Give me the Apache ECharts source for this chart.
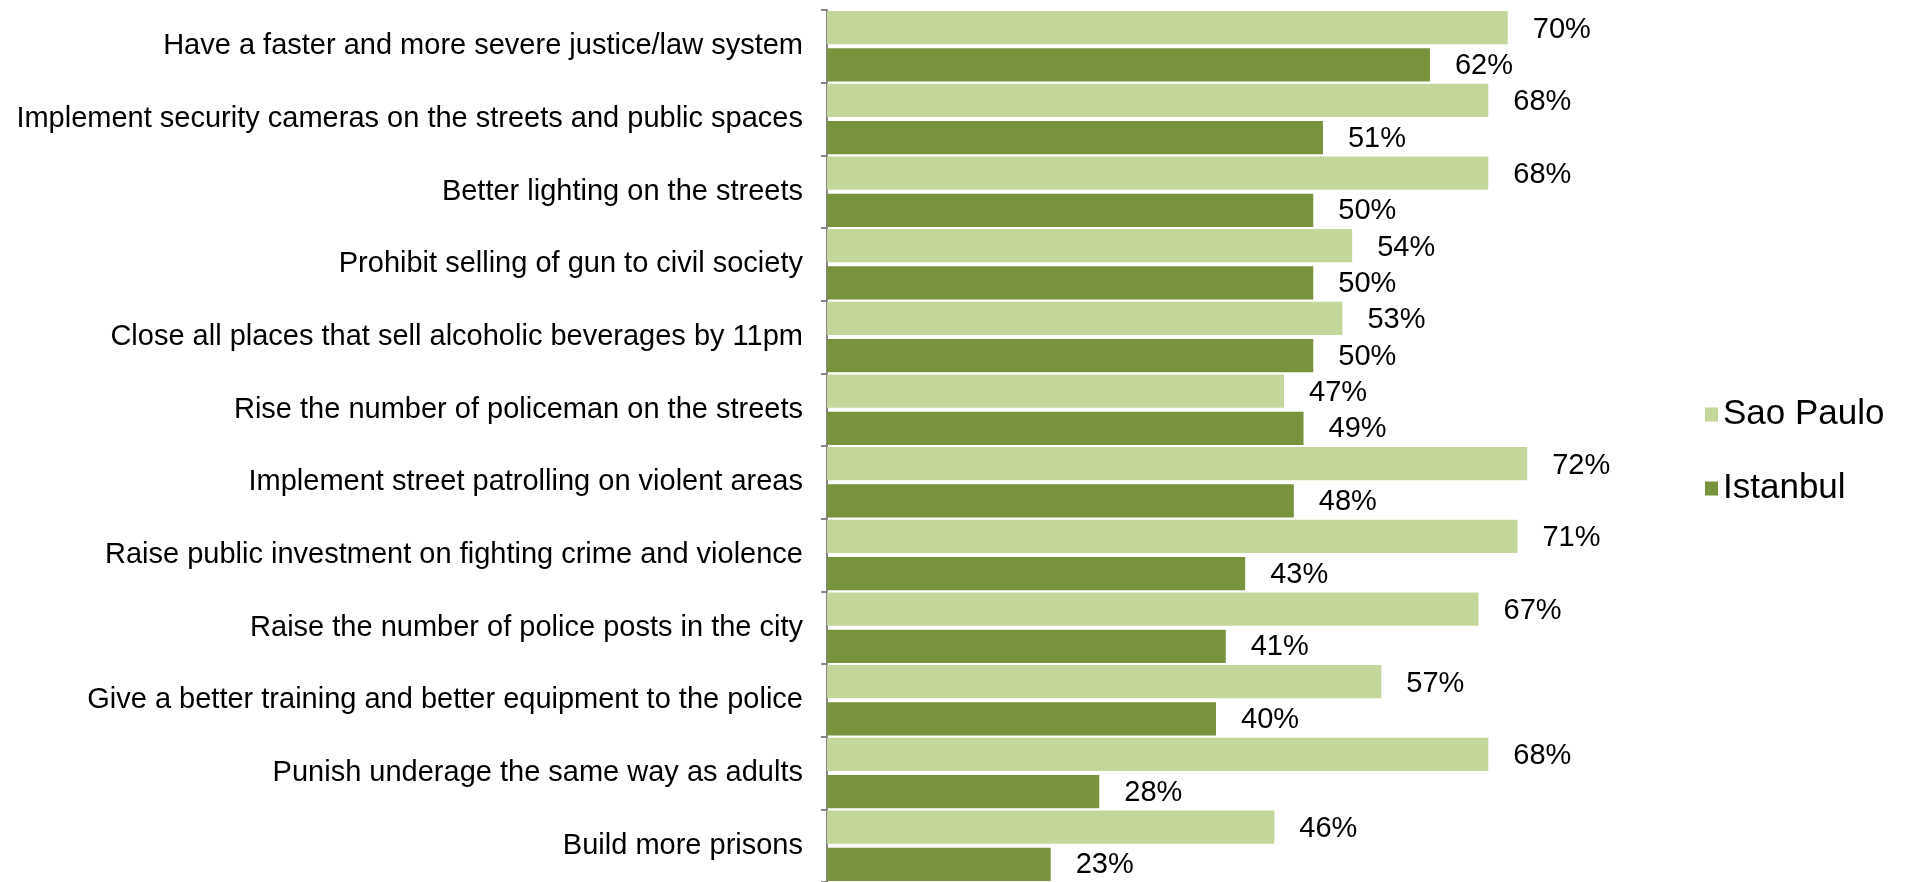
<!DOCTYPE html>
<html>
<head>
<meta charset="utf-8">
<script src="https://cdn.jsdelivr.net/npm/echarts@6/dist/echarts.min.js"></script>
<style>
html,body{margin:0;padding:0;background:#fff;}
#chart{width:1906px;height:882px;}
</style>
</head>
<body>
<div id="chart"></div>
<script>
const categories = [
  "Have a faster and more severe justice/law system",
  "Implement security cameras on the streets and public spaces",
  "Better lighting on the streets",
  "Prohibit selling of gun to civil society",
  "Close all places that sell alcoholic beverages by 11pm",
  "Rise the number of policeman on the streets",
  "Implement street patrolling on violent areas",
  "Raise public investment on fighting crime and violence",
  "Raise the number of police posts in the city",
  "Give a better training and better equipment to the police",
  "Punish underage the same way as adults",
  "Build more prisons"
];
const saoPaulo = [70, 68, 68, 54, 53, 47, 72, 71, 67, 57, 68, 46];
const istanbul = [62, 51, 50, 50, 50, 49, 48, 43, 41, 40, 28, 23];

const chart = echarts.init(document.getElementById('chart'));
const FONT = '"Liberation Sans", Arial, sans-serif';
function labelCfg(dy) {
  return {
    show: true,
    position: 'right',
    distance: 25,
    offset: [0, dy],
    color: '#000',
    fontFamily: FONT,
    fontSize: 29,
    formatter: p => p.value + '%'
  };
}
chart.setOption({
  animation: false,
  textStyle: { fontFamily: FONT },
  grid: { left: 827, top: 10, width: 778, height: 872, containLabel: false },
  legend: {
    orient: 'vertical',
    left: 1700,
    top: 392,
    icon: 'rect',
    itemWidth: 13,
    itemHeight: 14,
    itemGap: 39,
    textStyle: { fontFamily: FONT, fontSize: 35, color: '#000', lineHeight: 35 },
    data: ['Sao Paulo', 'Istanbul']
  },
  xAxis: {
    type: 'value',
    min: 0,
    max: 80,
    show: false,
    splitLine: { show: false }
  },
  yAxis: {
    type: 'category',
    inverse: true,
    data: categories,
    axisLine: { show: true, lineStyle: { color: '#868686', width: 2 } },
    axisTick: { show: true, length: 6, lineStyle: { color: '#868686', width: 2 } },
    axisLabel: { color: '#000', fontFamily: FONT, fontSize: 29, margin: 24, lineHeight: 30, padding: [10, 0, 0, 0] }
  },
  series: [
    {
      name: 'Sao Paulo',
      type: 'bar',
      data: saoPaulo,
      itemStyle: { color: '#C4D79B' },
      barGap: '12%',
      barCategoryGap: '3%',
      label: labelCfg(2)
    },
    {
      name: 'Istanbul',
      type: 'bar',
      data: istanbul,
      itemStyle: { color: '#77933C' },
      barGap: '12%',
      barCategoryGap: '3%',
      label: labelCfg(1)
    }
  ]
});
</script>
</body>
</html>
